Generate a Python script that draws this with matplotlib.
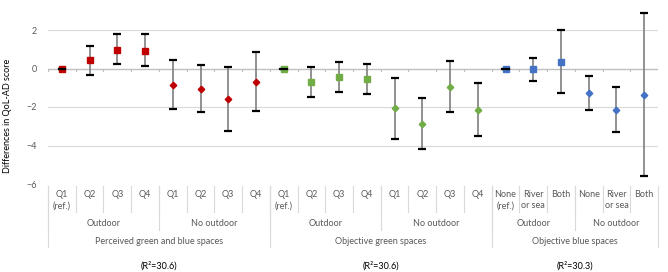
import numpy as np
import matplotlib.pyplot as plt
from matplotlib.transforms import blended_transform_factory

# category labels (bottom three levels)
cat_labels = ['Q1\n(ref.)', 'Q2', 'Q3', 'Q4', 'Q1', 'Q2', 'Q3', 'Q4',
              'Q1\n(ref.)', 'Q2', 'Q3', 'Q4', 'Q1', 'Q2', 'Q3', 'Q4',
              'None\n(ref.)', 'River\nor sea', 'Both', 'None', 'River\nor sea', 'Both']
sub_groups = ['Outdoor', 'No outdoor'] * 3
sub_sizes = [4, 4, 4, 4, 3, 3]
main_groups = ['Perceived green and blue spaces', 'Objective green spaces', 'Objective blue spaces']
main_sizes = [8, 8, 6]
r2_labels = ['(R\u00b2=30.6)', '(R\u00b2=30.6)', '(R\u00b2=30.3)']

# estimates with 95% CI
est = [0.0, 0.42, 0.98, 0.93, -0.85, -1.05, -1.59, -0.69,
       0.0, -0.69, -0.45, -0.56, -2.07, -2.87, -0.94, -2.14,
       0.0, -0.03, 0.36, -1.29, -2.14, -1.36]
lower = [0.0, -0.33, 0.21, 0.12, -2.11, -2.25, -3.25, -2.23,
         0.0, -1.47, -1.21, -1.34, -3.65, -4.20, -2.26, -3.51,
         0.0, -0.63, -1.27, -2.15, -3.32, -5.60]
upper = [0.0, 1.19, 1.78, 1.78, 0.45, 0.16, 0.07, 0.85,
         0.0, 0.07, 0.33, 0.22, -0.49, -1.53, 0.38, -0.77,
         0.0, 0.57, 2.00, -0.40, -0.96, 2.87]
colors = ['#C00000', '#70AD47', '#4472C4']

plt.rcParams['font.family'] = ['Lato', 'DejaVu Sans']
W, H = 668, 272
fig = plt.figure(figsize=(W / 100, H / 100), dpi=100)
ax = fig.add_axes([48 / W, 88 / H, 610 / W, 154 / H])

x = np.arange(len(est))
est = np.array(est)
lower = np.array(lower)
upper = np.array(upper)

# gridlines
for yv in [2, -2, -4]:
    ax.axhline(yv, color='#D9D9D9', lw=0.8, zorder=0)
ax.axhline(0, color='#BFBFBF', lw=1.0, zorder=0)
for b in np.arange(len(est) + 1) - 0.5:
    ax.plot([b, b], [0, -0.12], color='#BFBFBF', lw=0.8, zorder=0)

start = 0
for gi, n in enumerate(main_sizes):
    idx = np.arange(start, start + n)
    half = n // 2
    for part, marker, ms in [(idx[:half], 's', 4.6), (idx[half:], 'D', 3.3)]:
        eb = ax.errorbar(x[part], est[part],
                         yerr=[est[part] - lower[part], upper[part] - est[part]],
                         fmt='none', ecolor='#7F7F7F', elinewidth=1.2,
                         capsize=2.6, capthick=1.6, zorder=2)
        for c in eb.lines[1]:
            c.set_markeredgecolor('black')
            c.set_clip_on(False)
        for c in eb.lines[2]:
            c.set_clip_on(False)
        ax.plot(x[part], est[part], marker=marker, ls='none', color=colors[gi],
                ms=ms, mec=colors[gi], zorder=3, clip_on=False)
    # reference caps drawn on top
    ref = idx[0]
    ax.plot([ref - 0.12, ref + 0.12], [est[ref], est[ref]], color='black', lw=1.6, zorder=4)
    start += n

ax.set_xlim(-0.5, len(est) - 0.5)
ax.set_ylim(-6, 2)
ax.set_yticks([-6, -4, -2, 0, 2])
ax.tick_params(axis='y', length=0, labelsize=6.5, labelcolor='#595959', pad=8)
ax.set_xticks([])
for s in ax.spines.values():
    s.set_visible(False)

# category axis labels below the plot
tr = blended_transform_factory(ax.transData, fig.transFigure)
fy = lambda px: 1 - px / H
lc = '#D9D9D9'
tc = '#595959'
for i, lab in enumerate(cat_labels):
    ax.text(i, fy(190), lab, transform=tr, ha='center', va='top', fontsize=6.5,
            color=tc, linespacing=1.35)
for b in np.arange(1, len(est)):
    ax.plot([b - 0.5, b - 0.5], [fy(186), fy(212)], transform=tr, color=lc, lw=0.8, clip_on=False)

start = 0
for lab, n in zip(sub_groups, sub_sizes):
    ax.text(start + (n - 1) / 2, fy(224), lab, transform=tr, ha='center', va='center',
            fontsize=6.5, color=tc)
    ax.plot([start - 0.5, start - 0.5], [fy(186), fy(230)], transform=tr, color=lc, lw=0.8, clip_on=False)
    start += n

start = 0
for lab, r2, n in zip(main_groups, r2_labels, main_sizes):
    ax.text(start + (n - 1) / 2, fy(241), lab, transform=tr, ha='center', va='center',
            fontsize=6.5, color=tc)
    ax.text(start + (n - 1) / 2, fy(266), r2, transform=tr, ha='center', va='center',
            fontsize=6.5, color='black')
    ax.plot([start - 0.5, start - 0.5], [fy(186), fy(247)], transform=tr, color=lc, lw=0.8, clip_on=False)
    start += n
ax.plot([start - 0.5, start - 0.5], [fy(186), fy(247)], transform=tr, color=lc, lw=0.8, clip_on=False)

fig.text(8 / W, fy(116), 'Differences in QoL-AD score', rotation=90, ha='center', va='center',
         fontsize=6.5, color='black')

fig.savefig('out.png', dpi=100)
